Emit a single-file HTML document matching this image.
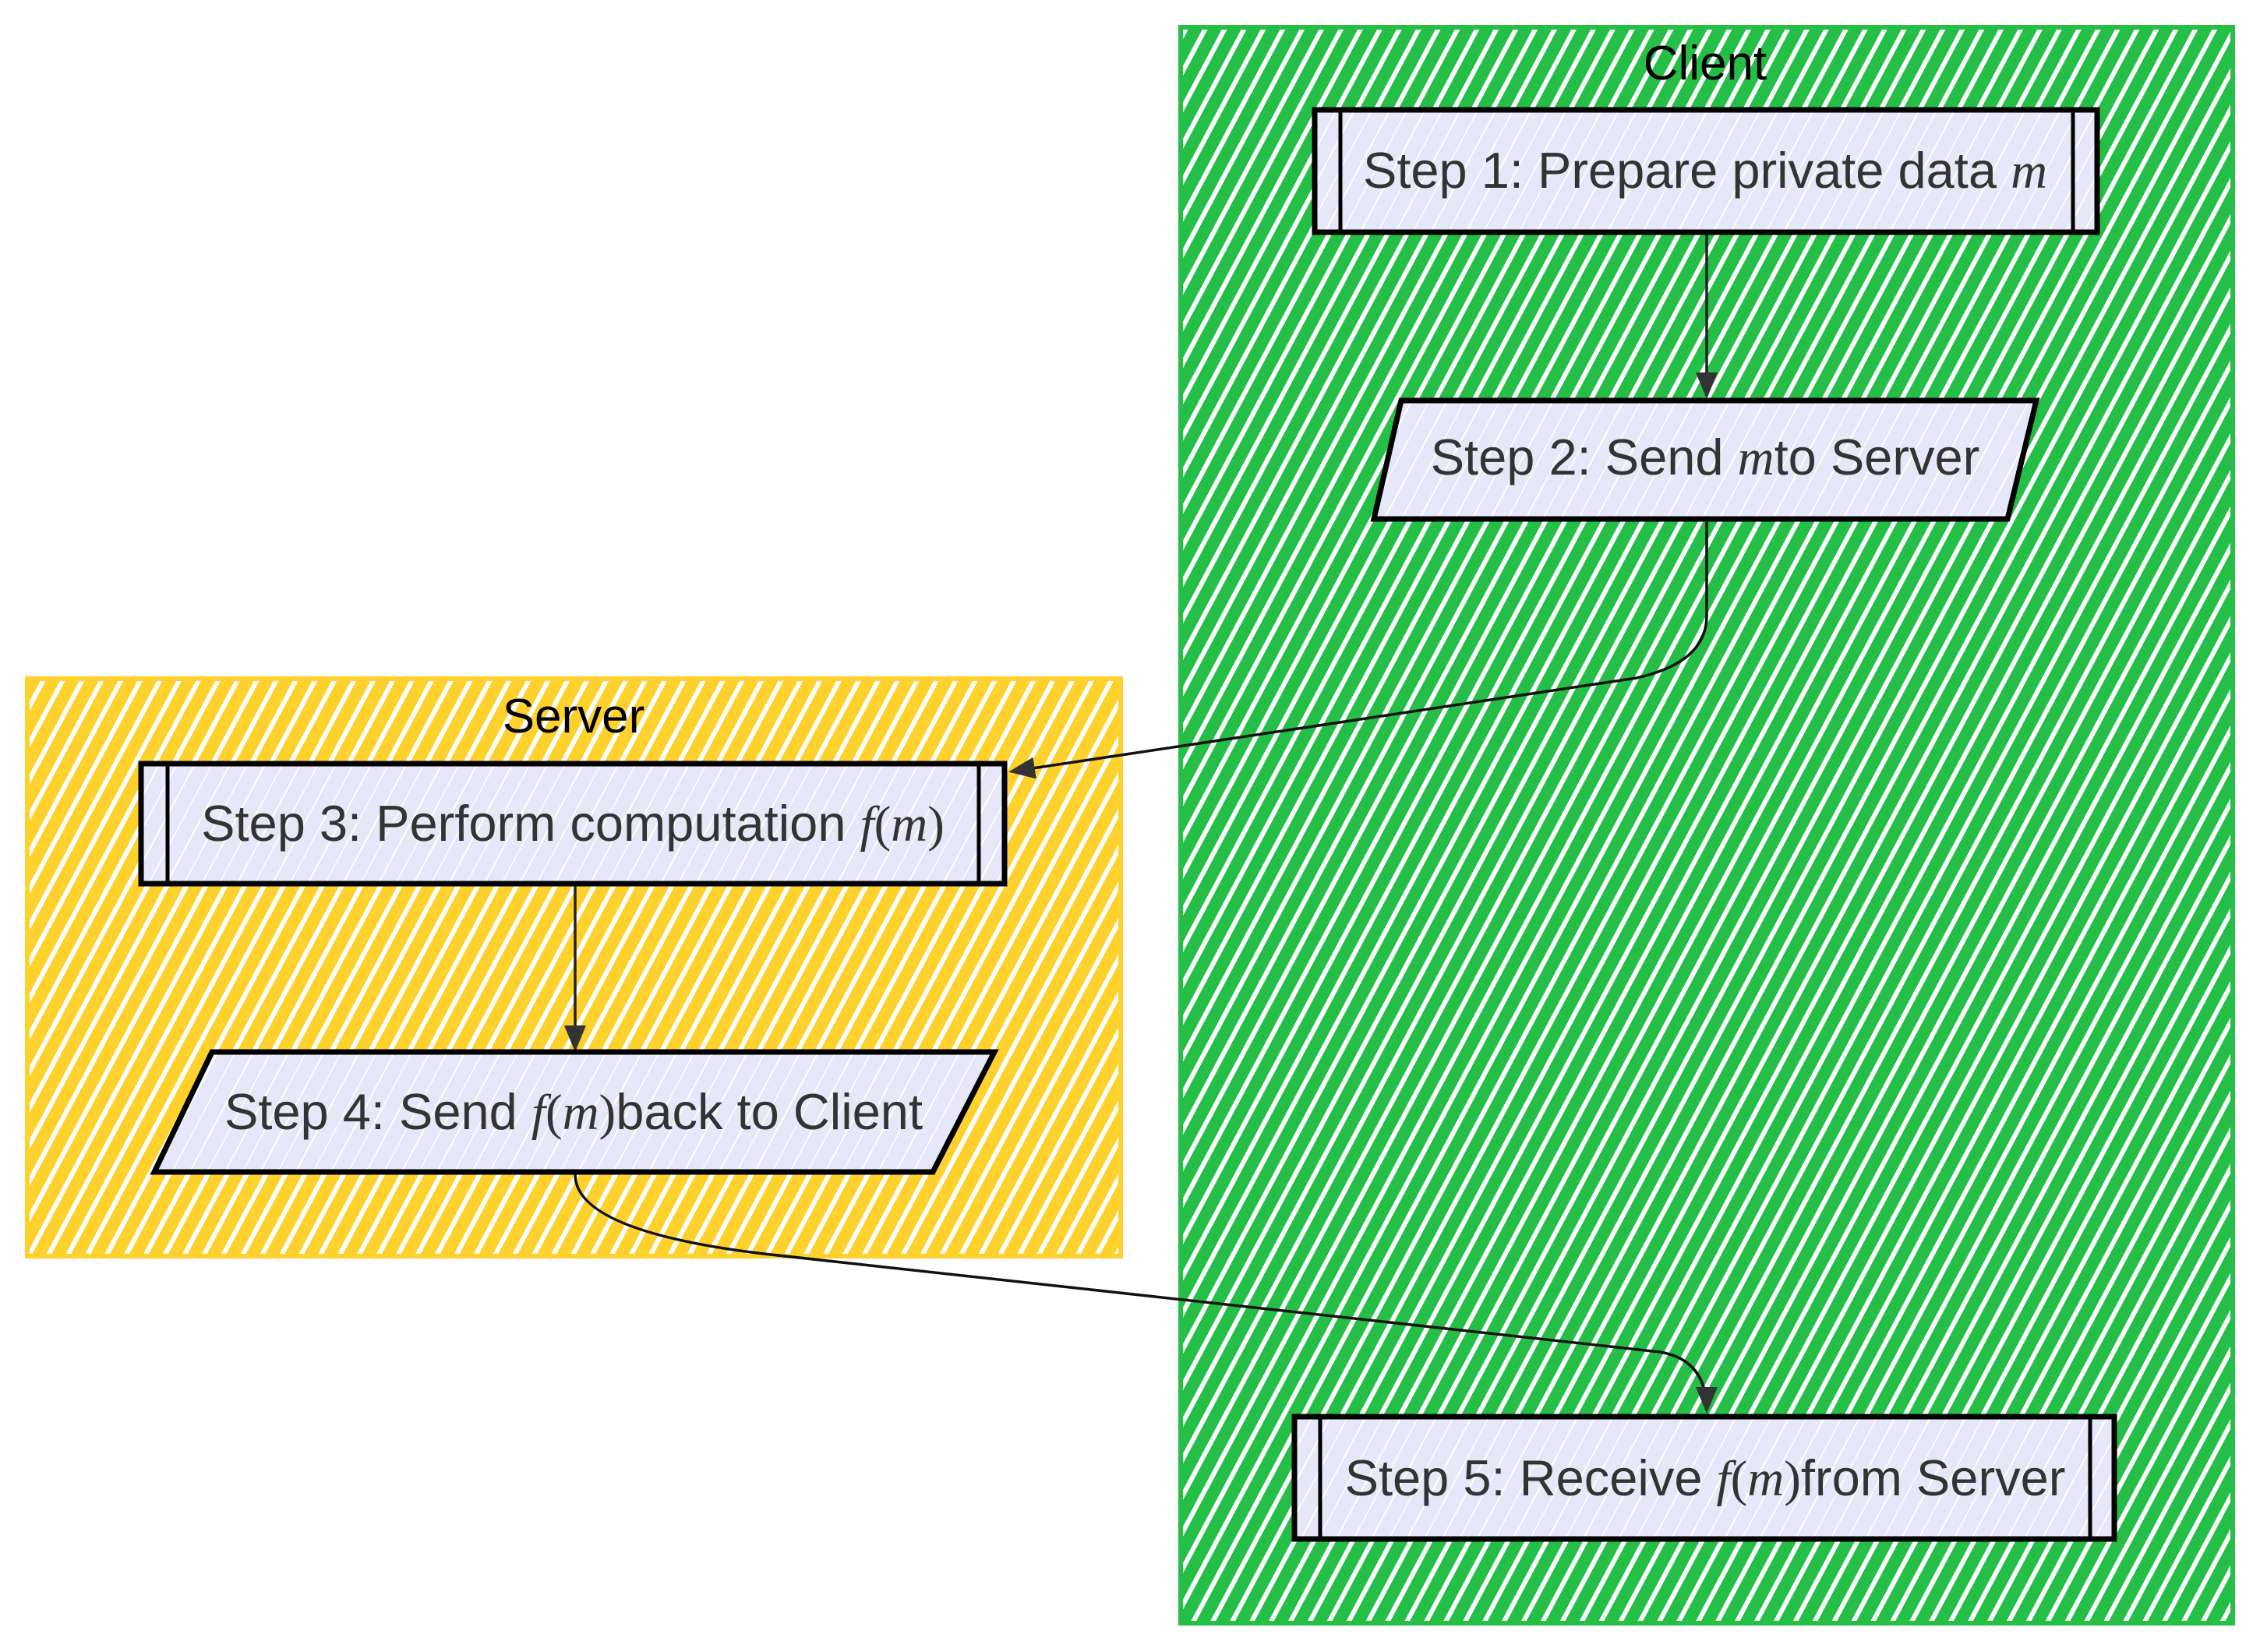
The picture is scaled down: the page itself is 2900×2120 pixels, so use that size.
<!DOCTYPE html>
<html><head><meta charset="utf-8"><style>
html,body{margin:0;padding:0;background:#fff;}
svg{display:block;}
text{font-family:"Liberation Sans",sans-serif;}
</style></head><body>
<svg width="2900" height="2120" viewBox="0 0 2900 2120" xmlns="http://www.w3.org/2000/svg">
<defs>
<pattern id="hg" width="22" height="22" patternUnits="userSpaceOnUse" patternTransform="rotate(28)">
<rect width="22" height="22" fill="#ffffff"/><rect width="16" height="22" fill="#25bf48"/>
</pattern>
<pattern id="hy" width="22" height="22" patternUnits="userSpaceOnUse" patternTransform="rotate(28)">
<rect width="22" height="22" fill="#ffffff"/><rect width="16" height="22" fill="#ffd12c"/>
</pattern>
<pattern id="hn" width="40" height="40" patternUnits="userSpaceOnUse" patternTransform="rotate(28)">
<rect width="40" height="40" fill="#e6e7f8"/><rect x="0" width="2" height="40" fill="#ffffff"/><rect x="20" width="1.5" height="40" fill="#ffffff"/>
</pattern>
<marker id="arb" markerWidth="36" markerHeight="36" refX="30" refY="18" orient="auto" markerUnits="userSpaceOnUse" viewBox="0 0 36 36">
<path d="M0,4 L34,18 L0,32 z" fill="#333"/>
</marker>
</defs>

<rect x="1515" y="35" width="1350" height="2048" fill="url(#hg)" stroke="#25bf48" stroke-width="6"/>
<text x="2188" y="102" font-size="62" text-anchor="middle" fill="#000">Client</text>

<rect x="35" y="871" width="1403" height="741" fill="url(#hy)" stroke="#ffd12c" stroke-width="6"/>
<text x="736" y="940" font-size="62" text-anchor="middle" fill="#000">Server</text>

<path d="M2190,300 L2190,508" stroke="#222" stroke-width="3.5" fill="none" marker-end="url(#arb)"/>
<path d="M2190,670 L2190,790 Q2190,850 2100,870 L1298,990" stroke="#111" stroke-width="3.5" fill="none" marker-end="url(#arb)"/>
<path d="M738,1136 L738,1346" stroke="#222" stroke-width="3.5" fill="none" marker-end="url(#arb)"/>
<path d="M738,1507 Q738,1580 980,1609 L2130,1735 Q2190,1745 2190,1810" stroke="#111" stroke-width="3.5" fill="none" marker-end="url(#arb)"/>

<rect x="1687" y="141" width="1004" height="157" fill="url(#hn)" stroke="#000" stroke-width="7"/>
<line x1="1720" y1="141" x2="1720" y2="298" stroke="#000" stroke-width="5"/>
<line x1="2660" y1="141" x2="2660" y2="298" stroke="#000" stroke-width="5"/>
<text x="2188" y="241" font-size="65" text-anchor="middle" fill="#333">Step 1: Prepare private data <tspan font-family="Liberation Serif,serif" font-style="italic">m</tspan></text>

<polygon points="1798,514 2613,514 2576,666 1763,666" fill="url(#hn)" stroke="#000" stroke-width="7"/>
<text x="2188" y="609" font-size="65" text-anchor="middle" fill="#333">Step 2: Send <tspan font-family="Liberation Serif,serif" font-style="italic">m</tspan>to Server</text>

<rect x="181" y="980" width="1108" height="154" fill="url(#hn)" stroke="#000" stroke-width="7"/>
<line x1="215" y1="980" x2="215" y2="1134" stroke="#000" stroke-width="5"/>
<line x1="1256" y1="980" x2="1256" y2="1134" stroke="#000" stroke-width="5"/>
<text x="735" y="1079" font-size="65" text-anchor="middle" fill="#333">Step 3: Perform computation <tspan font-family="Liberation Serif,serif" font-style="italic">f</tspan><tspan font-family="Liberation Serif,serif">(</tspan><tspan font-family="Liberation Serif,serif" font-style="italic">m</tspan><tspan font-family="Liberation Serif,serif">)</tspan></text>

<polygon points="272,1350 1276,1350 1197,1504 198,1504" fill="url(#hn)" stroke="#000" stroke-width="7"/>
<text x="736" y="1449" font-size="65" text-anchor="middle" fill="#333">Step 4: Send <tspan font-family="Liberation Serif,serif" font-style="italic">f</tspan><tspan font-family="Liberation Serif,serif">(</tspan><tspan font-family="Liberation Serif,serif" font-style="italic">m</tspan><tspan font-family="Liberation Serif,serif">)</tspan>back to Client</text>

<rect x="1661" y="1818" width="1052" height="157" fill="url(#hn)" stroke="#000" stroke-width="7"/>
<line x1="1694" y1="1818" x2="1694" y2="1975" stroke="#000" stroke-width="5"/>
<line x1="2682" y1="1818" x2="2682" y2="1975" stroke="#000" stroke-width="5"/>
<text x="2188" y="1919" font-size="65" text-anchor="middle" fill="#333">Step 5: Receive <tspan font-family="Liberation Serif,serif" font-style="italic">f</tspan><tspan font-family="Liberation Serif,serif">(</tspan><tspan font-family="Liberation Serif,serif" font-style="italic">m</tspan><tspan font-family="Liberation Serif,serif">)</tspan>from Server</text>
</svg>
</body></html>
